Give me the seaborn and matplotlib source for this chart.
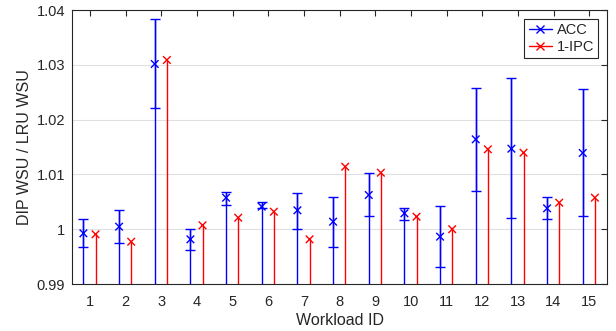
import numpy as np
import pandas as pd
import matplotlib
matplotlib.use("Agg")
import matplotlib.pyplot as plt
import seaborn as sns
from matplotlib.lines import Line2D

workloads = list(range(1, 16))
acc = [0.99925, 1.00046, 1.03015, 0.99815, 1.00575, 1.00411, 1.00345, 1.00137,
       1.00624, 1.00290, 0.99864, 1.01640, 1.01469, 1.00381, 1.01391]
acc_hi = [1.0018, 1.0035, 1.0383, 1.0000, 1.00685, 1.0049, 1.00666, 1.00582,
          1.0102, 1.0039, 1.00423, 1.02571, 1.02759, 1.00593, 1.02553]
acc_lo = [0.9967, 0.99743, 1.0221, 0.99627, 1.00442, 1.0038, 1.0001, 0.99675,
          1.00241, 1.00174, 0.99305, 1.00703, 1.0020, 1.00181, 1.00241]
ipc = [0.99907, 0.99772, 1.03088, 1.00071, 1.0021, 1.00319, 0.99815, 1.01141,
       1.01031, 1.00228, 1.0000, 1.01458, 1.01396, 1.00484, 1.00575]

sns.set_style("white")
plt.rcParams['font.family'] = ['Liberation Sans', 'DejaVu Sans']

fig = plt.figure(figsize=(6.16, 3.31), dpi=100)
ax = fig.add_axes([72/616, 1-284/331, (607-72)/616, (284-10)/331])

ymin = 0.99
x = np.array(workloads, dtype=float)
xb = x - 0.18
xr = x + 0.16
acc_a = np.array(acc); hi = np.array(acc_hi); lo = np.array(acc_lo)

# stems
ax.vlines(xb, ymin, hi, color=(0, 0, 1), lw=1.0, zorder=2)
ax.vlines(xr, ymin, ipc, color=(1, 0, 0), lw=1.0, zorder=2)
# error bars
ax.errorbar(xb, acc_a, yerr=[acc_a - lo, hi - acc_a], fmt='none',
            ecolor=(0, 0, 1), elinewidth=1.0, capsize=3.5, capthick=1.0, zorder=3)

df = pd.DataFrame({
    'x': np.concatenate([xb, xr]),
    'y': np.concatenate([acc_a, ipc]),
    'series': ['ACC'] * 15 + ['1-IPC'] * 15,
})
sns.scatterplot(data=df, x='x', y='y', hue='series', style='series',
                palette={'ACC': (0, 0, 1), '1-IPC': (1, 0, 0)},
                markers={'ACC': 'x', '1-IPC': 'x'}, s=30, linewidth=1.0,
                legend=False, ax=ax, zorder=4)

ax.set_xlim(0.5, 15.5)
ax.set_ylim(0.99, 1.04)
ax.set_xticks(workloads)
ax.set_xticklabels([str(w) for w in workloads])
yt = [0.99, 1.0, 1.01, 1.02, 1.03, 1.04]
ax.set_yticks(yt)
ax.set_yticklabels(['0.99', '1', '1.01', '1.02', '1.03', '1.04'])
ax.yaxis.grid(True, color=(0.88, 0.88, 0.88), lw=0.8)
ax.set_axisbelow(True)
ax.tick_params(direction='in', top=True, right=True, length=4, width=0.8,
               colors=(0.15, 0.15, 0.15), labelsize=10.5)
ax.tick_params(axis='x', pad=8)
ax.tick_params(axis='y', pad=5)
for s in ax.spines.values():
    s.set_color((0.15, 0.15, 0.15))
    s.set_linewidth(0.8)
ax.set_xlabel('Workload ID', fontsize=11.5, color=(0.15, 0.15, 0.15), labelpad=3)
ax.set_ylabel('DIP WSU / LRU WSU', fontsize=11.5, color=(0.15, 0.15, 0.15), labelpad=3)

handles = [Line2D([], [], color=(0, 0, 1), marker='x', lw=1, markersize=6),
           Line2D([], [], color=(1, 0, 0), marker='x', lw=1, markersize=6)]
leg = ax.legend(handles, ['ACC', '1-IPC'], loc='upper right', fontsize=10.5,
                frameon=True, fancybox=False, edgecolor=(0.15, 0.15, 0.15),
                framealpha=1, handlelength=1.6, handletextpad=0.3,
                borderpad=0.3, labelspacing=0.2, borderaxespad=0.6)
leg.get_frame().set_linewidth(0.8)

fig.savefig('out.png', dpi=100)
